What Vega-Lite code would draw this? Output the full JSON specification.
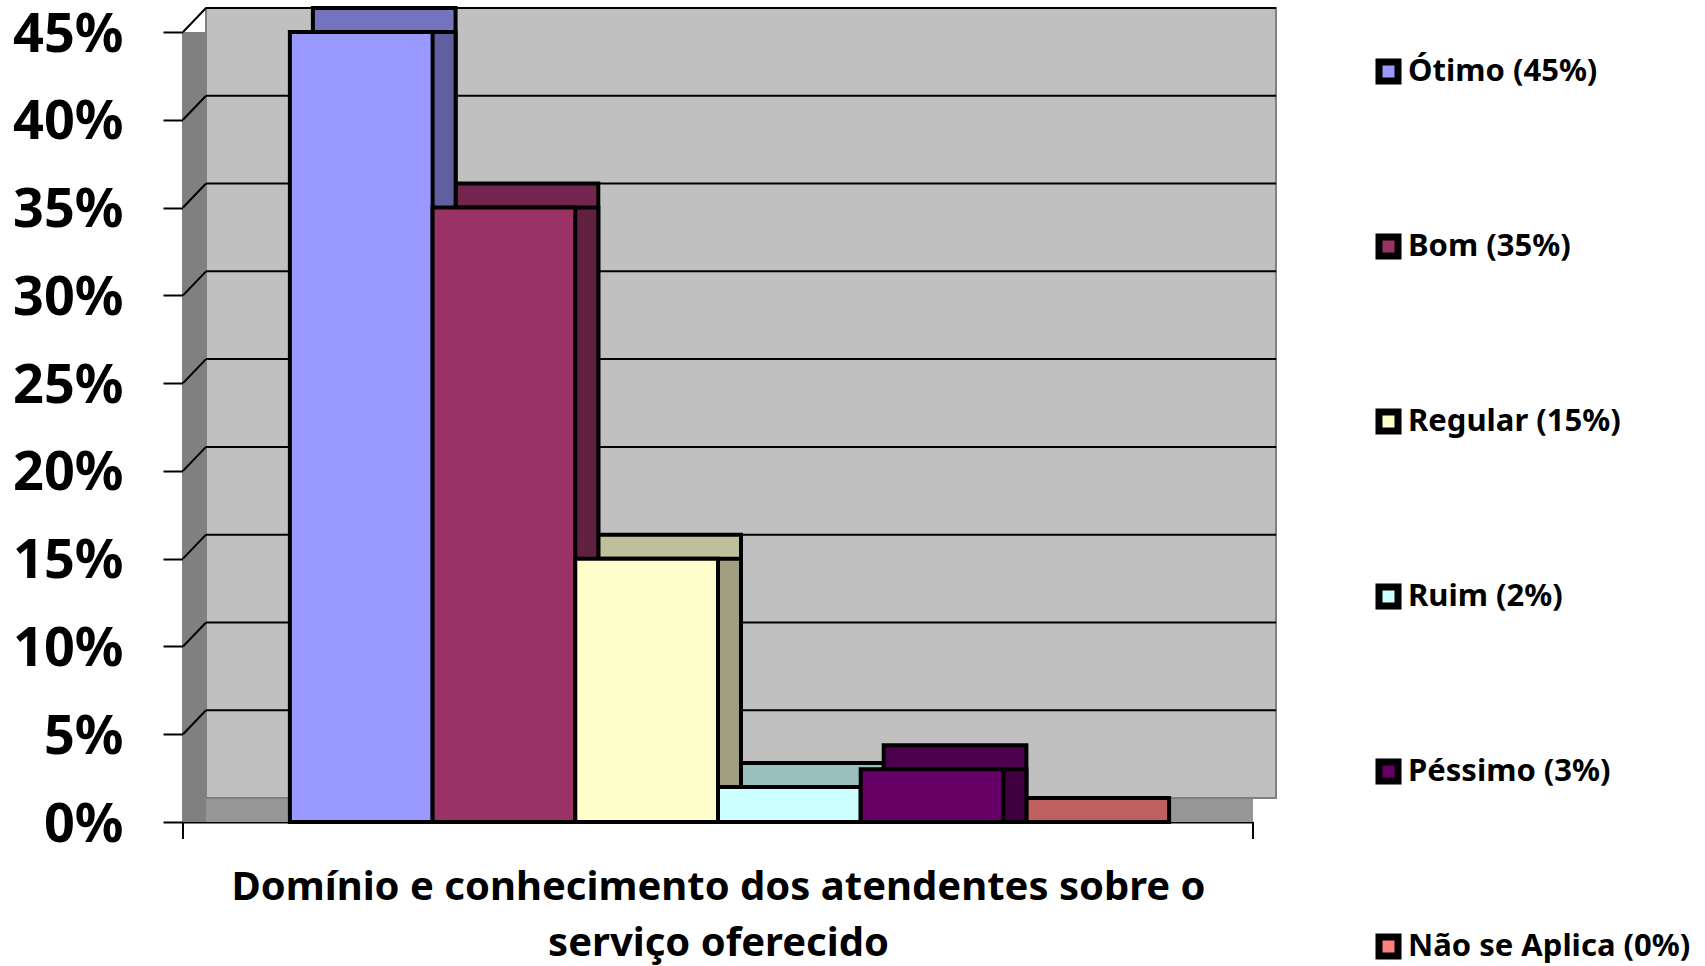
{
  "$schema": "https://vega.github.io/schema/vega-lite/v6.json",
  "width": 1070,
  "height": 790,
  "autosize": {"type": "none"},
  "padding": {"left": 183, "top": 32, "right": 452, "bottom": 144},
  "background": "white",
  "config": {"view": {"stroke": null}, "font": "Noto Sans"},
  "datasets": {
    "dados": [
      {"serie": "Ótimo (45%)", "valor": 0.45},
      {"serie": "Bom (35%)", "valor": 0.35},
      {"serie": "Regular (15%)", "valor": 0.15},
      {"serie": "Ruim (2%)", "valor": 0.02},
      {"serie": "Péssimo (3%)", "valor": 0.03},
      {"serie": "Não se Aplica (0%)", "valor": 0}
    ],
    "grade": [
      {"g": 0.05}, {"g": 0.10}, {"g": 0.15}, {"g": 0.20}, {"g": 0.25},
      {"g": 0.30}, {"g": 0.35}, {"g": 0.40}, {"g": 0.45}
    ],
    "um": [{"k": 1}]
  },
  "layer": [
    {
      "layer": [
        {
          "data": {"name": "um"},
          "mark": {"type": "rect", "fill": "#808080", "x2Offset": 23},
          "encoding": {
            "x": {"datum": 0, "type": "quantitative", "scale": {"domain": [0, 1], "nice": false, "zero": false}, "axis": null},
            "x2": {"datum": 0},
            "y": {"datum": 0, "type": "quantitative", "scale": {"domain": [0, 0.45], "nice": false}},
            "y2": {"datum": 0.45}
          }
        },
        {
          "data": {"name": "um"},
          "mark": {"type": "rect", "fill": "#969696", "xOffset": 23, "yOffset": -24},
          "encoding": {
            "x": {"datum": 0, "type": "quantitative", "axis": null},
            "x2": {"datum": 1},
            "y": {"datum": 0, "type": "quantitative"},
            "y2": {"datum": 0}
          }
        },
        {
          "data": {"name": "um"},
          "mark": {"type": "rect", "fill": "#c0c0c0", "stroke": "#808080", "strokeWidth": 2, "xOffset": 23, "x2Offset": 23, "yOffset": -24, "y2Offset": -24},
          "encoding": {
            "x": {"datum": 0, "type": "quantitative", "axis": null},
            "x2": {"datum": 1},
            "y": {"datum": 0, "type": "quantitative"},
            "y2": {"datum": 0.45}
          }
        },
        {
          "data": {"name": "grade"},
          "mark": {"type": "rule", "color": "black", "strokeWidth": 2, "xOffset": 23, "x2Offset": 23, "yOffset": -24},
          "encoding": {
            "x": {"datum": 0, "type": "quantitative", "axis": null},
            "x2": {"datum": 1},
            "y": {"field": "g", "type": "quantitative"}
          }
        },
        {
          "data": {"name": "grade"},
          "mark": {"type": "rule", "color": "black", "strokeWidth": 2, "x2Offset": 23, "y2Offset": -24},
          "encoding": {
            "x": {"datum": 0, "type": "quantitative", "axis": null},
            "x2": {"datum": 0},
            "y": {"field": "g", "type": "quantitative"},
            "y2": {"field": "g"}
          }
        },
        {
          "data": {"name": "um"},
          "mark": {"type": "rule", "color": "black", "strokeWidth": 2, "y2Offset": 17},
          "encoding": {
            "x": {"datum": 0, "type": "quantitative", "axis": null},
            "y": {"datum": 0, "type": "quantitative"},
            "y2": {"datum": 0}
          }
        },
        {
          "data": {"name": "um"},
          "mark": {"type": "rule", "color": "black", "strokeWidth": 2, "y2Offset": 17},
          "encoding": {
            "x": {"datum": 1, "type": "quantitative", "axis": null},
            "y": {"datum": 0, "type": "quantitative"},
            "y2": {"datum": 0}
          }
        }
      ]
    },
    {
      "data": {"name": "dados"},
      "layer": [
        {
          "mark": {"type": "bar", "stroke": "black", "strokeWidth": 4, "xOffset": 23, "yOffset": -24},
          "encoding": {
            "x": {"field": "serie", "type": "nominal", "sort": null, "scale": {"paddingInner": 0, "paddingOuter": 0.749}},
            "y": {"field": "valor", "type": "quantitative", "scale": {"domain": [0, 0.45], "nice": false}},
            "y2": {"datum": 0},
            "color": {
              "field": "serie", "type": "nominal", "sort": null, "legend": null,
              "scale": {
                "domain": ["Ótimo (45%)", "Bom (35%)", "Regular (15%)", "Ruim (2%)", "Péssimo (3%)", "Não se Aplica (0%)"],
                "range": ["#7373bf", "#73264d", "#bfbf99", "#99bfbf", "#4d004d", "#bf6060"]
              }
            }
          }
        },
        {
          "mark": {"type": "bar", "stroke": "black", "strokeWidth": 4, "xOffset": 23},
          "encoding": {
            "x": {"field": "serie", "type": "nominal", "sort": null, "scale": {"paddingInner": 0, "paddingOuter": 0.749}},
            "y": {"field": "valor", "type": "quantitative"},
            "y2": {"datum": 0},
            "color": {
              "field": "serie", "type": "nominal", "sort": null, "legend": null,
              "scale": {
                "domain": ["Ótimo (45%)", "Bom (35%)", "Regular (15%)", "Ruim (2%)", "Péssimo (3%)", "Não se Aplica (0%)"],
                "range": ["#6060a0", "#602040", "#a0a080", "#80a0a0", "#400040", "#a05050"]
              }
            }
          }
        },
        {
          "mark": {"type": "bar", "stroke": "black", "strokeWidth": 4},
          "encoding": {
            "x": {
              "field": "serie", "type": "nominal", "sort": null,
              "scale": {"paddingInner": 0, "paddingOuter": 0.749},
              "axis": {
                "title": ["Domínio e conhecimento dos atendentes sobre o", "serviço oferecido"],
                "labels": false, "ticks": false,
                "domainColor": "black", "domainWidth": 2,
                "titleFont": "Noto Sans", "titleFontSize": 40, "titleFontWeight": "bold", "titleColor": "black",
                "titlePadding": 45, "titleLineHeight": 56
              }
            },
            "y": {
              "field": "valor", "type": "quantitative",
              "axis": {
                "title": null,
                "values": [0, 0.05, 0.1, 0.15, 0.2, 0.25, 0.3, 0.35, 0.4, 0.45],
                "format": ".0%",
                "grid": false,
                "domainColor": "black", "domainWidth": 2,
                "tickColor": "black", "tickWidth": 2, "tickSize": 20,
                "labelFont": "Noto Sans", "labelFontSize": 54, "labelFontWeight": "bold", "labelColor": "black",
                "labelPadding": 40, "labelOffset": 3, "labelFlush": false, "labelOverlap": false
              }
            },
            "y2": {"datum": 0},
            "color": {
              "field": "serie", "type": "nominal", "sort": null,
              "scale": {
                "domain": ["Ótimo (45%)", "Bom (35%)", "Regular (15%)", "Ruim (2%)", "Péssimo (3%)", "Não se Aplica (0%)"],
                "range": ["#9999ff", "#993366", "#ffffcc", "#ccffff", "#660066", "#ff8080"]
              },
              "legend": {
                "orient": "none", "legendX": 1190, "legendY": 24,
                "title": null,
                "symbolType": "square", "symbolSize": 361,
                "symbolStrokeColor": "black", "symbolStrokeWidth": 7, "symbolOpacity": 1,
                "labelFont": "Noto Sans", "labelFontSize": 31, "labelFontWeight": "bold", "labelColor": "black",
                "labelOffset": 4, "labelLimit": 400, "rowPadding": 128
              }
            }
          }
        }
      ],
      "resolve": {"scale": {"color": "independent"}}
    }
  ],
  "resolve": {"scale": {"x": "independent"}}
}
